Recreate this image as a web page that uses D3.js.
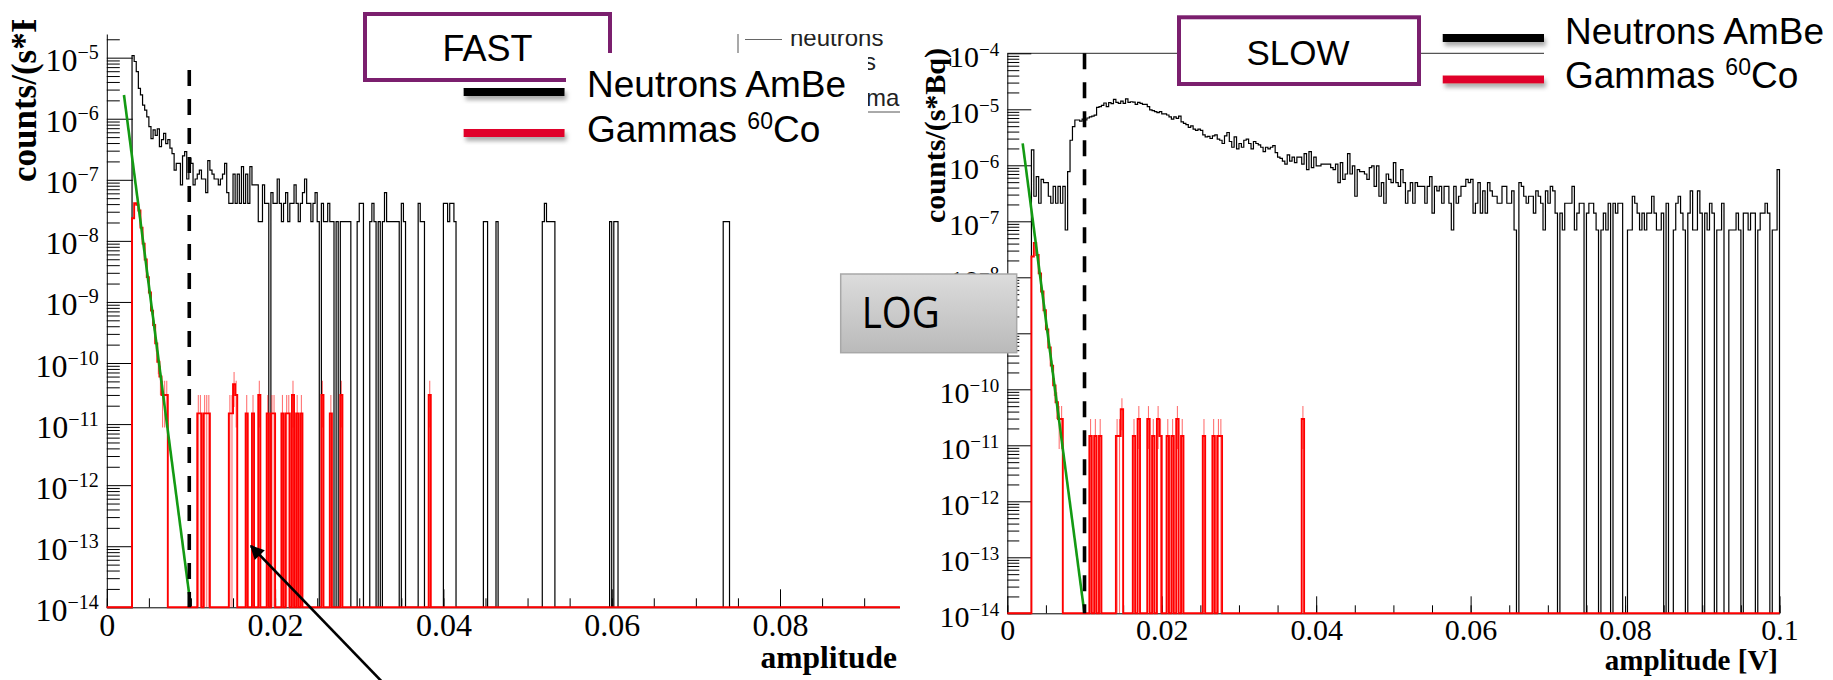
<!DOCTYPE html>
<html lang="en">
<head>
<meta charset="utf-8">
<title>FAST / SLOW amplitude spectra</title>
<script src="https://cdn.jsdelivr.net/npm/d3@7"></script>
<style>
    html, body { margin: 0; background: #fff; }
    svg { display: block; }
</style>
</head>
<body>
<svg id="chart" width="1833" height="680"></svg>
<script>
// FAST channel: 0.00025 V bins, counts times a per-count normalisation (counts/(s*Bq))
const fastBinWidth = 0.00025;
const fastBins = 377;
const fastNeutronUnit = 2.06e-8;
const fastGammaUnit = 1.5e-11;
const fastNeutronFirstBin = 12;
const fastNeutronCounts = [
    523, 420, 286, 152, 119, 81, 67, 52, 36, 23,
    32, 26, 33, 17, 22, 28, 19, 22, 16, 13,
    7, 9, 9, 4, 12, 14, 5, 11, 9, 4,
    5, 6, 7, 5, 5, 3, 10, 7, 6, 5,
    5, 4, 5, 6, 9, 3, 2, 2, 6, 2,
    6, 2, 8, 2, 6, 2, 8, 4, 4, 4,
    1, 1, 4, 2, 2, 0, 3, 2, 2, 5,
    2, 1, 2, 3, 1, 2, 2, 4, 2, 1,
    2, 3, 5, 2, 2, 1, 2, 3, 1, 0,
    2, 1, 1, 2, 1, 1, 0, 1, 0, 1,
    1, 1, 1, 1, 0, 0, 0, 1, 2, 2,
    0, 0, 0, 1, 2, 1, 0, 1, 0, 1,
    3, 1, 1, 1, 1, 1, 1, 0, 2, 1
];
// sparse part of the neutron spectrum: [bin, counts]
const fastNeutronTail = [
    [148, 2], [149, 1], [150, 1], [160, 2], [161, 2], [162, 1], [163, 2], [164, 2], [165, 1],
    [179, 1], [180, 1], [185, 1], [207, 1], [208, 2], [209, 1], [210, 1], [211, 1], [212, 1],
    [239, 1], [241, 1], [242, 1], [293, 1], [294, 1], [295, 1]
];
const fastGammaFirstBin = 12;
const fastGammaCounts = [1560, 2750, 2600, 2100, 1100, 600, 330, 170, 95, 48, 28, 14, 7, 4, 2, 2, 2];
const fastGammaTail = [
    [43, 1], [44, 1], [46, 1], [47, 1], [48, 1], [58, 1], [59, 1], [60, 3], [61, 2], [66, 1],
    [69, 1], [72, 2], [76, 1], [78, 1], [79, 1], [83, 1], [85, 1], [86, 1], [88, 2], [90, 1],
    [92, 1], [102, 2], [106, 1], [111, 2], [153, 2]
];
const fastFit = [[0.00204, 2.45e-6], [0.0098, 1.6e-14]];
const fastCut = [[0.0098, 6.3e-6], [0.0098, 1e-14]];

// SLOW channel: 0.0003125 V bins
const slowBinWidth = 0.0003125;
const slowBins = 320;
const slowNeutronUnit = 7.0e-8;
const slowGammaUnit = 1.47e-11;
const slowNeutronFirstBin = 10;
const slowNeutronCounts = [
    27, 4, 9, 3, 8, 7, 7, 4, 3, 6,
    3, 6, 3, 6, 1, 11, 40, 70, 92, 92,
    88, 95, 92, 100, 105, 108, 112, 155, 160, 168,
    185, 160, 188, 180, 215, 190, 182, 200, 182, 220,
    190, 195, 192, 175, 190, 183, 175, 175, 160, 140,
    135, 130, 125, 130, 118, 118, 113, 105, 95, 105,
    98, 108, 85, 80, 76, 68, 72, 63, 60, 63,
    60, 50, 46, 47, 43, 48, 50, 42, 40, 35,
    48, 55, 38, 30, 46, 28, 35, 30, 40, 42,
    35, 28, 38, 35, 33, 30, 25, 30, 28, 30,
    32, 24, 20, 19, 17, 15, 22, 17, 20, 16,
    20, 20, 15, 23, 12, 25, 13, 20, 14, 14,
    15, 15, 15, 15, 13, 12, 15, 7, 16, 8,
    10, 23, 10, 14, 4, 12, 11, 11, 10, 8,
    13, 14, 6, 14, 4, 7, 3, 10, 8, 7,
    16, 7, 6, 12, 7, 3, 5, 7, 3, 7,
    6, 6, 6, 3, 6, 9, 2, 6, 5, 6,
    3, 6, 6, 3, 1, 6, 3, 4, 6, 6,
    8, 7, 8, 2, 3, 7, 2, 5, 2, 7,
    5, 4, 4, 3, 3, 6, 6, 3, 3, 5,
    1, 0, 7, 6, 4, 3, 4, 4, 2, 5,
    4, 3, 1, 5, 3, 6, 5, 2, 0, 2,
    1, 3, 3, 3, 6, 1, 2, 3, 3, 0,
    2, 3, 3, 2, 1, 0, 1, 2, 1, 3,
    0, 3, 2, 3, 3, 0, 0, 1, 1, 4,
    3, 2, 1, 2, 1, 2, 2, 4, 2, 1,
    1, 2, 0, 3, 0, 0, 1, 3, 4, 2,
    1, 0, 2, 5, 1, 1, 5, 2, 0, 2,
    1, 3, 2, 0, 1, 1, 3, 0, 0, 1,
    1, 1, 2, 1, 0, 2, 2, 1, 2, 2,
    0, 1, 2, 2, 3, 2, 0, 1, 1, 12
];
const slowNeutronTail = [];
const slowGammaFirstBin = 10;
const slowGammaCounts = [1600, 2800, 1700, 800, 380, 175, 80, 38, 18, 8, 4, 2, 2];
const slowGammaTail = [
    [34, 1], [36, 1], [38, 1], [45, 1], [46, 1], [47, 3], [52, 1], [54, 2], [58, 2], [60, 1],
    [62, 2], [63, 1], [66, 1], [68, 1], [70, 2], [72, 1], [81, 1], [85, 1], [87, 1], [88, 1],
    [122, 2]
];
const slowFit = [[0.00199, 2.47e-6], [0.00996, 1.07e-14]];
const slowCut = [[0.01, 1e-4], [0.01, 1e-14]];

const xTicksFast = [0, 0.02, 0.04, 0.06, 0.08];
const xTicksSlow = [0, 0.02, 0.04, 0.06, 0.08, 0.1];
const decadesFast = [-14, -13, -12, -11, -10, -9, -8, -7, -6, -5];
const decadesSlow = [-14, -13, -12, -11, -10, -9, -8, -7, -6, -5, -4];

const serif = "'Liberation Serif', 'Times New Roman', serif";
const sans = "'Liberation Sans', Arial, sans-serif";
const purple = "#7b1f6e";

const svg = d3.select("#chart");
const defs = svg.append("defs");

defs.append("clipPath")
    .attr("id", "fast-clip")
    .append("rect")
    .attr("x", 0)
    .attr("y", 20)
    .attr("width", 900)
    .attr("height", 660);

defs.append("clipPath")
    .attr("id", "root-legend-clip")
    .append("rect")
    .attr("x", 700)
    .attr("y", 34)
    .attr("width", 200)
    .attr("height", 120);

defs.append("filter")
    .attr("id", "line-shadow")
    .attr("x", "-5%").attr("y", "-60%")
    .attr("width", "115%").attr("height", "260%")
    .append("feDropShadow")
    .attr("dx", 2).attr("dy", 4)
    .attr("stdDeviation", 2)
    .attr("flood-color", "#888")
    .attr("flood-opacity", 0.7);

const logFill = defs.append("linearGradient")
    .attr("id", "log-fill")
    .attr("x1", 0).attr("y1", 0).attr("x2", 0).attr("y2", 1);
logFill.append("stop").attr("offset", 0).attr("stop-color", "#dcdcdc");
logFill.append("stop").attr("offset", 1).attr("stop-color", "#bababa");

defs.append("marker")
    .attr("id", "arrow-head")
    .attr("viewBox", "0 0 10 10")
    .attr("refX", 9).attr("refY", 5)
    .attr("markerUnits", "userSpaceOnUse")
    .attr("markerWidth", 21).attr("markerHeight", 14)
    .attr("orient", "auto")
    .append("path")
    .attr("d", "M0,0L10,5L0,10Z")
    .attr("fill", "#000");

const fillBins = (nBins, firstBin, dense, tail) => {
    const counts = new Array(nBins).fill(0);
    dense.forEach((c, k) => { counts[firstBin + k] = c; });
    tail.forEach(([bin, c]) => { counts[bin] = c; });
    return counts;
};

const drawPanel = (root, p) => {
    const x = d3.scaleLinear().domain(p.xDomain).range(p.xRange);
    const y = d3.scaleLog().domain(p.yDomain).range(p.yRange);
    const floor = p.yDomain[0];
    const bottom = p.yRange[0];
    const left = p.xRange[0];

    const minorY = p.decades
        .flatMap(e => d3.range(2, 10).map(m => m * 10 ** e))
        .filter(v => v <= p.yDomain[1]);
    const minorX = d3.range(0, p.xDomain[1] + 1e-9, 0.005);

    if (p.frameEnd) {
        root.append("line")
            .attr("x1", left).attr("x2", p.frameEnd)
            .attr("y1", y(p.yDomain[1])).attr("y2", y(p.yDomain[1]))
            .attr("stroke", "#555")
            .attr("stroke-width", 1.3);
    }

    root.append("g")
        .attr("transform", `translate(0,${bottom})`)
        .call(d3.axisBottom(x).tickValues(minorX).tickSize(-p.xMinorLen).tickSizeOuter(0).tickFormat(""))
        .call(g => g.select(".domain").remove());

    root.append("g")
        .attr("transform", `translate(0,${bottom})`)
        .call(d3.axisBottom(x)
            .tickValues(p.xTicks)
            .tickSize(-p.xMajorLen)
            .tickSizeOuter(0)
            .tickPadding(p.xPad)
            .tickFormat(d => String(d)))
        .attr("font-family", serif)
        .attr("font-size", p.labelSize);

    root.append("g")
        .attr("transform", `translate(${left},0)`)
        .call(d3.axisLeft(y).tickValues(minorY).tickSize(-p.yMinorLen).tickSizeOuter(0).tickFormat(""))
        .call(g => g.select(".domain").remove());

    root.append("g")
        .attr("transform", `translate(${left},0)`)
        .call(d3.axisLeft(y).tickValues(p.decades.map(e => 10 ** e)).tickSize(-p.yMajorLen).tickSizeOuter(0).tickFormat(""));

    const yLabels = root.append("g")
        .attr("font-family", serif)
        .attr("font-size", p.labelSize)
        .attr("text-anchor", "end")
        .selectAll("text")
        .data(p.decades)
        .join("text")
        .attr("x", left - 8)
        .attr("y", e => y(10 ** e) + p.labelDrop);
    yLabels.append("tspan").text("10");
    yLabels.append("tspan")
        .attr("font-size", p.supSize)
        .attr("dy", -p.supRise)
        .text(e => "\u2212" + Math.abs(e));

    const step = d3.line()
        .x(d => x(d[0]))
        .y(d => y(d[1]))
        .curve(d3.curveStepAfter);
    const outline = (counts, unit) => step([
        [0, floor],
        ...counts.map((c, k) => [k * p.binWidth, c > 0 ? c * unit : floor]),
        [counts.length * p.binWidth, floor]
    ]);

    root.append("path")
        .attr("d", outline(p.neutron, p.neutronUnit))
        .attr("fill", "none")
        .attr("stroke", "#000")
        .attr("stroke-width", 1.2);

    root.append("g")
        .attr("stroke", "#ff0000")
        .attr("stroke-opacity", 0.55)
        .attr("stroke-width", 1.1)
        .selectAll("line")
        .data(p.gamma.map((c, k) => ({ c, k })).filter(d => d.c > 0))
        .join("line")
        .attr("x1", d => x((d.k + 0.5) * p.binWidth))
        .attr("x2", d => x((d.k + 0.5) * p.binWidth))
        .attr("y1", d => d.c - Math.sqrt(d.c) > 0 ? y((d.c - Math.sqrt(d.c)) * p.gammaUnit) : bottom)
        .attr("y2", d => y((d.c + Math.sqrt(d.c)) * p.gammaUnit));

    root.append("path")
        .attr("d", outline(p.gamma, p.gammaUnit))
        .attr("fill", "none")
        .attr("stroke", "#ff0000")
        .attr("stroke-width", 1.9);

    const straight = d3.line().x(d => x(d[0])).y(d => y(d[1]));

    root.append("path")
        .attr("d", straight(p.fit))
        .attr("fill", "none")
        .attr("stroke", "#139a13")
        .attr("stroke-width", 2.6);

    root.append("path")
        .attr("d", straight(p.cut))
        .attr("fill", "none")
        .attr("stroke", "#000")
        .attr("stroke-width", 3.6)
        .attr("stroke-dasharray", "16 13");

    root.append("text")
        .attr("transform", `translate(${p.yTitle[0]},${p.yTitle[1]}) rotate(-90)`)
        .attr("font-family", serif)
        .attr("font-weight", "bold")
        .attr("font-size", p.yTitleSize)
        .text("counts/(s*Bq)");

    root.append("text")
        .attr("x", p.xTitle[0])
        .attr("y", p.xTitle[1])
        .attr("text-anchor", "end")
        .attr("font-family", serif)
        .attr("font-weight", "bold")
        .attr("font-size", p.xTitleSize)
        .text(p.xTitleText);
};

// ---- FAST panel (cropped screenshot of a ROOT canvas)
const fast = svg.append("g").attr("clip-path", "url(#fast-clip)");

// what is left visible of the original ROOT legend
const rootLegend = fast.append("g")
    .attr("clip-path", "url(#root-legend-clip)")
    .attr("font-family", sans)
    .attr("font-size", 24)
    .attr("fill", "#222");
rootLegend.append("rect")
    .attr("x", 738).attr("y", 18)
    .attr("width", 300).attr("height", 94)
    .attr("fill", "none")
    .attr("stroke", "#555");
rootLegend.append("line")
    .attr("x1", 745).attr("x2", 782)
    .attr("y1", 39.5).attr("y2", 39.5)
    .attr("stroke", "#666");
rootLegend.append("text").attr("x", 790).attr("y", 46).text("neutrons");
rootLegend.append("text").attr("x", 876).attr("y", 70).attr("text-anchor", "end").text("s");
rootLegend.append("text").attr("x", 866).attr("y", 106).text("ma");

drawPanel(fast, {
    xDomain: [0, 0.0942],
    xRange: [106.8, 899.5],
    yDomain: [1e-14, 2.44e-5],
    yRange: [607.3, 34],
    binWidth: fastBinWidth,
    neutron: fillBins(fastBins, fastNeutronFirstBin, fastNeutronCounts, fastNeutronTail),
    gamma: fillBins(fastBins, fastGammaFirstBin, fastGammaCounts, fastGammaTail),
    neutronUnit: fastNeutronUnit,
    gammaUnit: fastGammaUnit,
    fit: fastFit,
    cut: fastCut,
    xTicks: xTicksFast,
    decades: decadesFast,
    xMajorLen: 18, xMinorLen: 9,
    yMajorLen: 26, yMinorLen: 13,
    xPad: 6,
    labelSize: 32, supSize: 20, supRise: 12, labelDrop: 13.5,
    yTitle: [36.4, 182], yTitleSize: 35,
    xTitle: [897, 668], xTitleSize: 31.5, xTitleText: "amplitude"
});

// ---- SLOW panel
const slow = svg.append("g");
drawPanel(slow, {
    xDomain: [0, 0.1],
    xRange: [1007.3, 1779.5],
    yDomain: [1e-14, 1e-4],
    yRange: [613.3, 53.3],
    binWidth: slowBinWidth,
    neutron: fillBins(slowBins, slowNeutronFirstBin, slowNeutronCounts, slowNeutronTail),
    gamma: fillBins(slowBins, slowGammaFirstBin, slowGammaCounts, slowGammaTail),
    neutronUnit: slowNeutronUnit,
    gammaUnit: slowGammaUnit,
    fit: slowFit,
    cut: slowCut,
    xTicks: xTicksSlow,
    decades: decadesSlow,
    frameEnd: 1544,
    xMajorLen: 17, xMinorLen: 8,
    yMajorLen: 24, yMinorLen: 12,
    xPad: 5,
    labelSize: 30, supSize: 19, supRise: 11, labelDrop: 14,
    yTitle: [945, 223], yTitleSize: 30,
    xTitle: [1778, 670], xTitleSize: 29, xTitleText: "amplitude [V]"
});

// ---- slide annotations laid over the two plots
const titleBox = (cx, box, label, size) => {
    svg.append("rect")
        .attr("x", box[0]).attr("y", box[1])
        .attr("width", box[2]).attr("height", box[3])
        .attr("fill", "#fff")
        .attr("stroke", purple)
        .attr("stroke-width", 4);
    svg.append("text")
        .attr("x", cx).attr("y", box[1] + box[3] - 19)
        .attr("text-anchor", "middle")
        .attr("font-family", sans)
        .attr("font-size", size)
        .text(label);
};

const legend = (lineX, lineY, textX, textY, whiteBox) => {
    svg.append("rect")
        .attr("x", whiteBox[0]).attr("y", whiteBox[1])
        .attr("width", whiteBox[2]).attr("height", whiteBox[3])
        .attr("fill", "#fff");
    [["#000", lineY[0]], ["#e0062b", lineY[1]]].forEach(([color, ly]) => {
        svg.append("rect")
            .attr("x", lineX[0])
            .attr("y", ly - 4)
            .attr("width", lineX[1] - lineX[0])
            .attr("height", 8)
            .attr("fill", color)
            .attr("filter", "url(#line-shadow)");
    });
    const texts = svg.append("g")
        .attr("font-family", sans)
        .attr("font-size", 37)
        .attr("fill", "#000");
    texts.append("text").attr("x", textX).attr("y", textY[0]).text("Neutrons AmBe");
    const gammaText = texts.append("text").attr("x", textX).attr("y", textY[1]);
    gammaText.append("tspan").text("Gammas\u00a0");
    gammaText.append("tspan").attr("font-size", 23).attr("dy", -13).text("60");
    gammaText.append("tspan").attr("dy", 13).text("Co");
};

titleBox(487.5, [365, 14, 245, 66], "FAST", 36);
legend([463.6, 564.6], [92, 133], 587, [97, 141.7], [566, 53, 302, 97]);

titleBox(1298, [1179, 17.3, 240, 66.7], "SLOW", 35);
legend([1442.7, 1544], [38, 79.5], 1565, [44, 88.3], [1545, 0, 288, 100]);

svg.append("rect")
    .attr("x", 840.7).attr("y", 274)
    .attr("width", 176).attr("height", 78.7)
    .attr("fill", "url(#log-fill)")
    .attr("stroke", "#a8a8a8")
    .attr("stroke-width", 1.5);
svg.append("text")
    .attr("x", 861.7).attr("y", 328.3)
    .attr("font-family", "'Open Sans', sans-serif")
    .attr("font-size", 44)
    .attr("textLength", 78)
    .attr("lengthAdjust", "spacingAndGlyphs")
    .text("LOG");

svg.append("line")
    .attr("x1", 390).attr("y1", 690)
    .attr("x2", 251).attr("y2", 546)
    .attr("stroke", "#000")
    .attr("stroke-width", 2.6)
    .attr("marker-end", "url(#arrow-head)");
</script>
</body>
</html>
